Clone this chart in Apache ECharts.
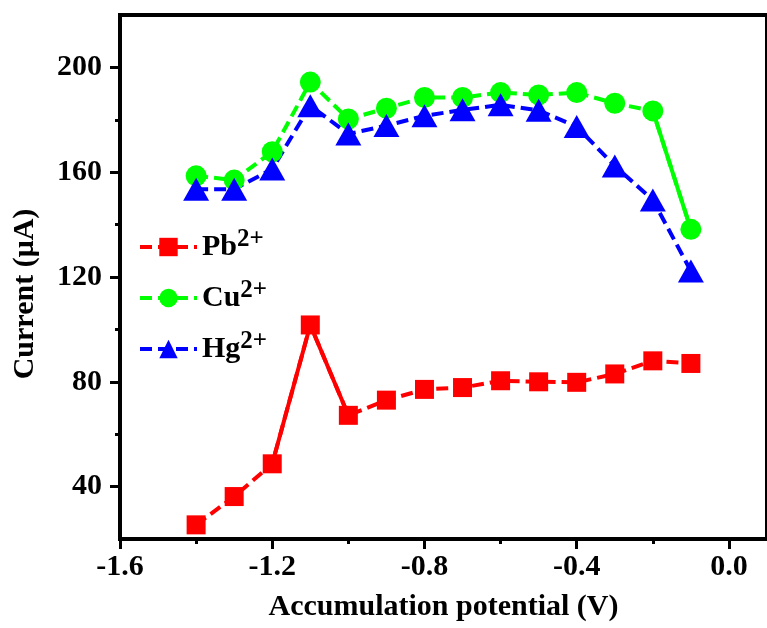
<!DOCTYPE html>
<html>
<head>
<meta charset="utf-8">
<script src="https://cdn.jsdelivr.net/npm/echarts@6/dist/echarts.min.js"></script>
<style>
  html, body { margin: 0; padding: 0; background: #fff; }
  #main { width: 767px; height: 628px; }
</style>
</head>
<body>
<div id="main"></div>
<script>
var potentials = [-1.4, -1.3, -1.2, -1.1, -1.0, -0.9, -0.8, -0.7, -0.6, -0.5, -0.4, -0.3, -0.2, -0.1];
var pbValues = [25.4, 36.2, 48.7, 101.7, 67.2, 73.0, 77.1, 77.8, 80.4, 80.0, 79.8, 83.0, 88.0, 87.0];
var cuValues = [158.6, 157.0, 167.8, 194.4, 180.3, 184.4, 188.5, 188.5, 190.4, 189.5, 190.4, 186.3, 183.4, 138.2];
var hgValues = [153.5, 153.5, 161.2, 185.4, 174.6, 177.8, 181.5, 183.8, 185.7, 183.6, 177.4, 162.4, 149.4, 122.3];

var xMajorTicks = [-1.6, -1.2, -0.8, -0.4, 0.0];
var xMinorTicks = [-1.4, -1.0, -0.6, -0.2];
var yMajorTicks = [40, 80, 120, 160, 200];
var yMinorTicks = [60, 100, 140, 180];

var FONT = "'Times New Roman', 'Liberation Serif', serif";

function pairs(ys, from, to) {
    var out = [];
    for (var i = from; i <= to; i++) {
        out.push([potentials[i], ys[i]]);
    }
    return out;
}

var chart = echarts.init(document.getElementById('main'));

var tickFont = { fontFamily: FONT, fontWeight: 'bold', fontSize: 30, color: '#000' };

var option = {
    animation: false,
    backgroundColor: '#fff',
    grid: {
        left: 120, top: 15, right: -4, bottom: 89,
        show: true, borderColor: '#000', borderWidth: 4
    },
    legend: {
        data: ['Pb', 'Cu', 'Hg'],
        orient: 'vertical',
        left: 133, top: 222,
        itemWidth: 57, itemHeight: 23, itemGap: 16,
        lineStyle: { width: 4 },
        formatter: function (name) {
            return '{n|' + name + '}{s|2+}';
        },
        textStyle: {
            rich: {
                n: { fontFamily: FONT, fontWeight: 'bold', fontSize: 30, color: '#000' },
                s: { fontFamily: FONT, fontWeight: 'bold', fontSize: 25, color: '#000',
                     verticalAlign: 'bottom', padding: [0, 0, 15, 0] }
            }
        }
    },
    xAxis: [{
        type: 'value', min: -1.6, max: 0.1, interval: 0.4,
        name: 'Accumulation potential (V)',
        nameLocation: 'middle', nameGap: 53,
        nameTextStyle: { fontFamily: FONT, fontWeight: 'bold', fontSize: 30, color: '#000' },
        axisLine: { onZero: false, lineStyle: { color: '#000', width: 4 } },
        axisTick: { customValues: xMajorTicks, length: 10, lineStyle: { color: '#000', width: 3 } },
        axisLabel: Object.assign({ customValues: xMajorTicks, margin: 13,
            formatter: function (v) { return v.toFixed(1); } }, tickFont),
        splitLine: { show: false }
    }, {
        type: 'value', min: -1.6, max: 0.1, interval: 0.4, position: 'bottom',
        axisLine: { show: false, onZero: false },
        axisTick: { customValues: xMinorTicks, length: 5, lineStyle: { color: '#000', width: 3 } },
        axisLabel: { show: false },
        splitLine: { show: false }
    }],
    yAxis: [{
        type: 'value', min: 20, max: 220, interval: 20,
        name: 'Current (\u03bcA)',
        nameLocation: 'middle', nameGap: 80,
        nameTextStyle: { fontFamily: FONT, fontWeight: 'bold', fontSize: 30, color: '#000',
                         padding: [0, 34, 0, 0] },
        axisLine: { onZero: false, lineStyle: { color: '#000', width: 4 } },
        axisTick: { customValues: yMajorTicks, length: 10, lineStyle: { color: '#000', width: 3 } },
        axisLabel: Object.assign({ customValues: yMajorTicks, margin: 18 }, tickFont),
        splitLine: { show: false }
    }, {
        type: 'value', min: 20, max: 220, interval: 20, position: 'left',
        axisLine: { show: false, onZero: false },
        axisTick: { customValues: yMinorTicks, length: 5, lineStyle: { color: '#000', width: 3 } },
        axisLabel: { show: false },
        splitLine: { show: false }
    }],
    series: [
        // solid stretches of the curves
        { name: 'PbSolid', type: 'line', silent: true, symbol: 'none',
          data: pairs(pbValues, 2, 4),
          lineStyle: { color: '#ff0000', width: 4 } },
        { name: 'CuSolid', type: 'line', silent: true, symbol: 'none',
          data: pairs(cuValues, 12, 13),
          lineStyle: { color: '#00ff00', width: 4 } },
        { name: 'Pb', type: 'line', data: pairs(pbValues, 0, 13),
          symbol: 'rect', symbolSize: 19,
          itemStyle: { color: '#ff0000' },
          lineStyle: { color: '#ff0000', width: 4, type: [12, 6] } },
        { name: 'Cu', type: 'line', data: pairs(cuValues, 0, 13),
          symbol: 'circle', symbolSize: 21,
          itemStyle: { color: '#00ff00' },
          lineStyle: { color: '#00ff00', width: 4, type: [12, 6] } },
        { name: 'Hg', type: 'line', data: pairs(hgValues, 0, 13),
          symbol: 'triangle', symbolSize: [26, 23],
          itemStyle: { color: '#0000ff' },
          lineStyle: { color: '#0000ff', width: 4, type: [12, 6] } }
    ]
};

chart.setOption(option);
</script>
</body>
</html>
